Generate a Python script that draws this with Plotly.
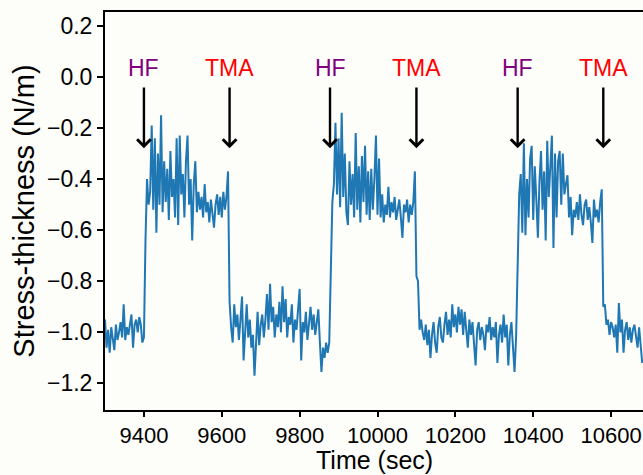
import numpy as np
import plotly.graph_objects as go

# Stress-thickness samples, one every 4 s starting at t = 9300 s
stress_thickness = [
    # baseline before first HF pulse
    -0.95, -1.06, -0.99, -1.08, -0.98, -1.02, -1.07, -0.97, -1.03, -1.00,
    -0.96, -1.02, -0.89, -1.03, -0.98, -1.01, -0.96, -0.93, -1.06, -0.97,
    -0.95, -1.00, -0.94, -0.97, -1.04,
    # HF exposure 1
    -1.02, -0.64, -0.40,
    -0.50, -0.45, -0.19, -0.52, -0.24, -0.61, -0.30, -0.50, -0.15, -0.53,
    -0.33, -0.49, -0.36, -0.56, -0.29, -0.47, -0.40, -0.55, -0.24, -0.58,
    -0.23, -0.46, -0.38, -0.55, -0.33, -0.23, -0.50, -0.40, -0.64, -0.42,
    -0.33, -0.53, -0.45, -0.52,
    -0.47, -0.55, -0.42, -0.53, -0.49, -0.57, -0.48, -0.53, -0.59, -0.50,
    -0.46, -0.54, -0.47, -0.55, -0.45, -0.52, -0.47, -0.37,
    # TMA exposure 1
    -0.88, -0.98,
    -1.04, -0.89, -0.98, -0.93, -1.03, -0.95, -0.86, -1.11, -0.97, -0.89,
    -1.02, -0.95, -1.06, -1.01, -1.17, -1.03, -0.92, -1.05, -0.97, -0.93,
    -1.02, -0.95, -0.85, -0.99, -0.81, -0.96, -0.90, -1.02, -0.93, -0.98,
    -0.88, -1.00, -0.82, -0.96, -0.87, -1.02, -0.94, -0.97, -0.89, -1.04,
    -0.95, -0.99, -0.91, -0.83, -1.11, -0.96, -1.00, -0.92, -1.03, -0.95,
    -0.90, -0.99, -0.93, -1.01, -0.96, -0.91, -1.04, -1.155, -1.06, -1.10,
    -1.04, -1.08,
    # HF exposure 2
    -1.04, -0.70, -0.49,
    -0.42, -0.18, -0.46, -0.24, -0.51, -0.14, -0.47, -0.30, -0.53, -0.58,
    -0.33, -0.50, -0.38, -0.55, -0.22, -0.52, -0.35, -0.57, -0.31, -0.49,
    -0.27, -0.54, -0.37, -0.56, -0.36, -0.52, -0.40, -0.23, -0.54, -0.32,
    -0.55,
    -0.46, -0.57, -0.50, -0.54, -0.43, -0.55, -0.49, -0.53, -0.47, -0.56,
    -0.51, -0.48, -0.55, -0.63, -0.50, -0.53, -0.48, -0.57, -0.50, -0.54,
    -0.49, -0.37,
    # TMA exposure 2
    -0.78, -0.80, -0.99,
    -0.95, -1.00, -1.03, -0.97, -1.05, -0.99, -1.10, -1.01, -0.96, -1.04,
    -1.08, -0.98, -0.94, -1.02, -1.04, -0.97, -0.92, -1.01, -0.95, -1.02,
    -0.89, -0.98, -0.93, -1.00, -0.90, -0.97, -0.91, -1.01, -0.92, -0.99,
    -1.06, -0.95, -1.01, -0.96, -1.04, -1.13, -0.99, -0.96, -1.03, -0.98,
    -1.01, -1.07, -0.97, -1.00, -0.94, -1.03, -0.98, -1.02, -0.96, -1.12,
    -1.01, -0.97, -1.04, -0.93, -1.02, -0.97, -1.13, -1.01, -0.96, -1.04,
    -1.155,
    # HF exposure 3
    -1.02, -0.66, -0.46,
    -0.38, -0.61, -0.26, -0.62, -0.40, -0.55, -0.32, -0.27, -0.56, -0.35,
    -0.48, -0.63, -0.41, -0.29, -0.52, -0.37, -0.64, -0.25, -0.47, -0.36,
    -0.23, -0.67, -0.30, -0.55, -0.33, -0.29, -0.50, -0.30, -0.46, -0.42,
    -0.385, -0.55, -0.47,
    -0.62, -0.52, -0.55, -0.49, -0.56, -0.46, -0.54, -0.58, -0.50, -0.48,
    -0.56, -0.51, -0.57, -0.65, -0.48, -0.55, -0.52, -0.57, -0.49, -0.44,
    # TMA exposure 3
    -0.90, -0.89,
    -0.97, -0.95, -1.01, -0.96, -0.98, -1.02, -0.97, -1.08, -0.885, -1.00,
    -0.95, -1.08, -0.99, -0.96, -1.03, -0.98, -1.04, -0.99, -0.97, -1.02,
    -1.06, -0.98, -1.04, -1.12,
]
sample_start = 9300
sample_step = 4
time_sec = sample_start + sample_step * np.arange(len(stress_thickness))

hf_times = [9400, 9878, 10360]
tma_times = [9620, 10100, 10580]

x_ticks = [9400, 9600, 9800, 10000, 10200, 10400, 10600]
y_ticks = [0.2, 0.0, -0.2, -0.4, -0.6, -0.8, -1.0, -1.2]

BG = "#fdfdf9"
FONT = "Liberation Sans, Arial, sans-serif"

fig = go.Figure()
fig.add_trace(go.Scatter(
    x=time_sec, y=stress_thickness, mode="lines",
    line=dict(color="#1f77b4", width=2), showlegend=False,
    hoverinfo="skip",
))

label_y = 0.034
tail_y = -0.036
tip_y = -0.279
annotations = []
for times, label, color in [(hf_times, "HF", "#800080"), (tma_times, "TMA", "#ff0000")]:
    for t in times:
        annotations.append(dict(
            x=t, y=label_y, xref="x", yref="y", text=label, showarrow=False,
            font=dict(family=FONT, size=23, color=color),
        ))
        annotations.append(dict(
            x=t, y=tip_y, ax=t, ay=tail_y, xref="x", yref="y",
            axref="x", ayref="y", text="", showarrow=True,
            arrowhead=4, arrowsize=1.1, arrowwidth=2.4, arrowcolor="black",
            standoff=0, startstandoff=0,
        ))

# x-axis title placed just below the tick labels
annotations.append(dict(
    x=0.5, y=-0.1633, xref="paper", yref="paper", text="Time (sec)",
    showarrow=False, xanchor="center", yanchor="bottom", borderpad=0,
    font=dict(family=FONT, size=25, color="black"),
))

fig.update_layout(
    width=643, height=475,
    margin=dict(l=105, r=0, t=12, b=65),
    paper_bgcolor=BG, plot_bgcolor=BG,
    font=dict(family=FONT, color="black"),
    annotations=annotations,
    xaxis=dict(
        range=[9300, 10682], tickvals=x_ticks,
        ticktext=[str(v) for v in x_ticks],
        showline=True, linecolor="black", linewidth=2, mirror=True,
        ticks="outside", ticklen=5, tickwidth=1.5, tickcolor="black",
        showgrid=False, zeroline=False, ticklabeloverflow="allow",
        tickfont=dict(size=22),
    ),
    yaxis=dict(
        range=[-1.304, 0.254], tickvals=y_ticks, tickformat=".1f",
        showline=True, linecolor="black", linewidth=2,
        ticks="outside", ticklen=6, tickwidth=1.5, tickcolor="black",
        showgrid=False, zeroline=False,
        tickfont=dict(size=23),
        title=dict(text="Stress-thickness (N/m)", font=dict(size=29), standoff=4),
    ),
)

fig.write_html("out.html")
